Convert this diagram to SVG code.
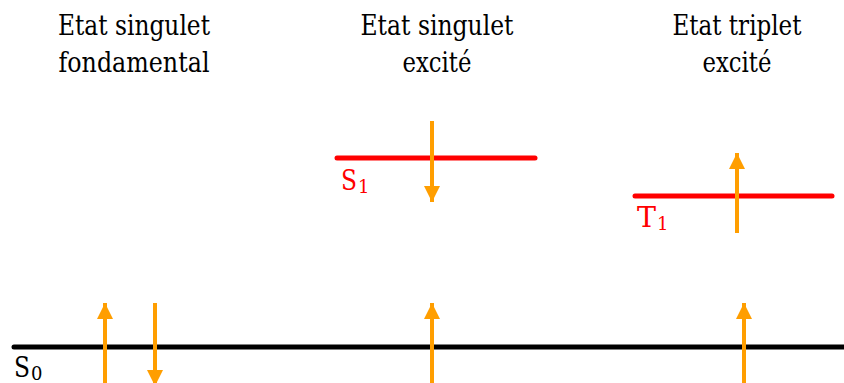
<svg xmlns="http://www.w3.org/2000/svg" width="844" height="383" viewBox="0 0 844 383">
<style>
text{font-family:'DejaVu Serif',serif}
.t{font-size:28px;fill:#000;text-anchor:middle}
.lbl{font-size:27px}
.sub{font-size:18px}
.lvl{stroke-width:5;stroke-linecap:round;fill:none}
.spin{stroke:#FF9E00;stroke-width:4;fill:none}
</style>
<defs>
<marker id="ah" viewBox="0 0 16 16" refX="16" refY="8" markerWidth="16" markerHeight="16" markerUnits="userSpaceOnUse" orient="auto">
<path d="M0,0 L16,8 L0,16 Z" fill="#FF9E00"/>
</marker>
</defs>
<rect width="844" height="383" fill="#fff"/>
<g id="title-ground">
<text class="t" x="134" y="35" textLength="152" lengthAdjust="spacingAndGlyphs">Etat singulet</text>
<text class="t" x="134" y="72" textLength="151" lengthAdjust="spacingAndGlyphs">fondamental</text>
</g>
<g id="title-singlet">
<text class="t" x="437" y="35" textLength="153" lengthAdjust="spacingAndGlyphs">Etat singulet</text>
<text class="t" x="437" y="72" textLength="69" lengthAdjust="spacingAndGlyphs">excité</text>
</g>
<g id="title-triplet">
<text class="t" x="737" y="35" textLength="129" lengthAdjust="spacingAndGlyphs">Etat triplet</text>
<text class="t" x="737" y="72" textLength="69" lengthAdjust="spacingAndGlyphs">excité</text>
</g>
<g id="S0">
<line class="lvl" x1="14" y1="347" x2="846" y2="347" stroke="#000"/>
<text class="lbl" x="14" y="377" fill="#000" textLength="16" lengthAdjust="spacingAndGlyphs">S</text>
<text class="lbl sub" x="31" y="380" fill="#000">0</text>
</g>
<g id="S1">
<line class="lvl" x1="337" y1="158" x2="535" y2="158" stroke="#FF0000"/>
<text class="lbl" x="341" y="190" fill="#FF0000" textLength="16" lengthAdjust="spacingAndGlyphs">S</text>
<text class="lbl sub" x="358" y="193" fill="#FF0000">1</text>
</g>
<g id="T1">
<line class="lvl" x1="635" y1="196" x2="832" y2="196" stroke="#FF0000"/>
<text class="lbl" x="637" y="227" fill="#FF0000" textLength="19" lengthAdjust="spacingAndGlyphs">T</text>
<text class="lbl sub" x="657" y="230" fill="#FF0000">1</text>
</g>
<g id="spins">
<line class="spin" x1="105" y1="390" x2="105" y2="303" marker-end="url(#ah)"/>
<line class="spin" x1="155" y1="303" x2="155" y2="386" marker-end="url(#ah)"/>
<line class="spin" x1="432" y1="121" x2="432" y2="202" marker-end="url(#ah)"/>
<line class="spin" x1="737" y1="233" x2="737" y2="153" marker-end="url(#ah)"/>
<line class="spin" x1="432" y1="390" x2="432" y2="303" marker-end="url(#ah)"/>
<line class="spin" x1="744" y1="390" x2="744" y2="303" marker-end="url(#ah)"/>
</g>
</svg>
